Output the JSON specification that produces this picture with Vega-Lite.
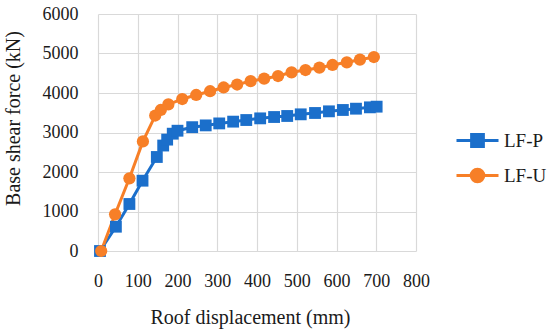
{
  "$schema": "https://vega.github.io/schema/vega-lite/v6.json",
  "width": 318,
  "height": 237,
  "autosize": {"type": "none"},
  "padding": {"left": 98, "top": 14, "right": 134, "bottom": 84},
  "background": "white",
  "config": {
    "font": "Liberation Serif",
    "view": {"stroke": null},
    "axis": {
      "labelFont": "Liberation Serif",
      "titleFont": "Liberation Serif",
      "labelFontSize": 18,
      "titleFontSize": 20,
      "labelColor": "#1a1a1a",
      "titleColor": "#1a1a1a",
      "titleFontWeight": "normal",
      "gridColor": "#d9d9d9",
      "gridWidth": 1.2,
      "domain": false,
      "ticks": false,
      "format": "d",
      "labelOverlap": false,
      "labelFlush": false
    },
    "legend": {"labelFont": "Liberation Serif", "labelFontSize": 19, "labelColor": "#1a1a1a"}
  },
  "data": {
    "values": [
      {"series": "LF-P", "disp": 5, "force": 0},
      {"series": "LF-P", "disp": 45, "force": 615},
      {"series": "LF-P", "disp": 79, "force": 1190},
      {"series": "LF-P", "disp": 112, "force": 1780},
      {"series": "LF-P", "disp": 148, "force": 2380},
      {"series": "LF-P", "disp": 164, "force": 2670},
      {"series": "LF-P", "disp": 174, "force": 2820},
      {"series": "LF-P", "disp": 188, "force": 2970},
      {"series": "LF-P", "disp": 200, "force": 3045},
      {"series": "LF-P", "disp": 237, "force": 3135},
      {"series": "LF-P", "disp": 271, "force": 3180},
      {"series": "LF-P", "disp": 305, "force": 3230},
      {"series": "LF-P", "disp": 340, "force": 3275},
      {"series": "LF-P", "disp": 373, "force": 3316},
      {"series": "LF-P", "disp": 408, "force": 3358},
      {"series": "LF-P", "disp": 443, "force": 3392},
      {"series": "LF-P", "disp": 476, "force": 3418},
      {"series": "LF-P", "disp": 510, "force": 3460},
      {"series": "LF-P", "disp": 546, "force": 3494},
      {"series": "LF-P", "disp": 581, "force": 3536},
      {"series": "LF-P", "disp": 616, "force": 3570},
      {"series": "LF-P", "disp": 649, "force": 3603},
      {"series": "LF-P", "disp": 684, "force": 3637},
      {"series": "LF-P", "disp": 701, "force": 3654},
      {"series": "LF-U", "disp": 8, "force": 0},
      {"series": "LF-U", "disp": 43, "force": 929},
      {"series": "LF-U", "disp": 79, "force": 1840},
      {"series": "LF-U", "disp": 113, "force": 2775},
      {"series": "LF-U", "disp": 144, "force": 3430},
      {"series": "LF-U", "disp": 158, "force": 3570},
      {"series": "LF-U", "disp": 177, "force": 3710},
      {"series": "LF-U", "disp": 212, "force": 3848},
      {"series": "LF-U", "disp": 247, "force": 3950},
      {"series": "LF-U", "disp": 282, "force": 4045},
      {"series": "LF-U", "disp": 316, "force": 4140},
      {"series": "LF-U", "disp": 350, "force": 4215},
      {"series": "LF-U", "disp": 384, "force": 4300},
      {"series": "LF-U", "disp": 418, "force": 4363},
      {"series": "LF-U", "disp": 453, "force": 4430},
      {"series": "LF-U", "disp": 487, "force": 4523},
      {"series": "LF-U", "disp": 522, "force": 4582},
      {"series": "LF-U", "disp": 557, "force": 4641},
      {"series": "LF-U", "disp": 590, "force": 4709},
      {"series": "LF-U", "disp": 626, "force": 4777},
      {"series": "LF-U", "disp": 659, "force": 4843},
      {"series": "LF-U", "disp": 694, "force": 4911}
    ]
  },
  "encoding": {
    "x": {
      "field": "disp", "type": "quantitative",
      "scale": {"domain": [0, 800], "nice": false},
      "axis": {"values": [0,100,200,300,400,500,600,700,800], "title": "Roof displacement (mm)", "labelPadding": 21, "titleX": 152, "titleY": 66, "titleBaseline": "middle"}
    },
    "y": {
      "field": "force", "type": "quantitative",
      "scale": {"domain": [0, 6000], "nice": false},
      "axis": {"values": [0,1000,2000,3000,4000,5000,6000], "title": "Base shear force (kN)", "labelPadding": 20, "titleX": -85, "titleY": 104, "titleBaseline": "middle"}
    },
    "color": {
      "field": "series", "type": "nominal",
      "scale": {"domain": ["LF-P", "LF-U"], "range": ["#1b6fcb", "#f77f27"]},
      "legend": {
        "title": null,
        "orient": "none",
        "legendX": 357,
        "legendY": 104,
        "symbolSize": 1764,
        "symbolStrokeWidth": 3,
        "rowPadding": -4,
        "labelOffset": 4,
        "encode": {
          "symbols": {
            "update": {
              "shape": {"signal": "datum.value === 'LF-P' ? 'M-1,0H1M-0.28,-0.28H0.28V0.28H-0.28Z' : 'M-1,0H1M0.3,0A0.3,0.3,0,1,1,-0.3,0A0.3,0.3,0,1,1,0.3,0Z'"},
              "stroke": {"scale": "color", "field": "value"},
              "fill": {"scale": "color", "field": "value"},
              "strokeWidth": {"value": 3},
              "opacity": {"value": 1}
            }
          }
        }
      }
    }
  },
  "layer": [
    {"mark": {"type": "line", "strokeWidth": 3}},
    {
      "transform": [{"filter": "datum.series === 'LF-P'"}],
      "mark": {"type": "point", "filled": true, "opacity": 1, "shape": "square", "size": 140}
    },
    {
      "transform": [{"filter": "datum.series === 'LF-U'"}],
      "mark": {"type": "point", "filled": true, "opacity": 1, "shape": "circle", "size": 150}
    }
  ]
}
